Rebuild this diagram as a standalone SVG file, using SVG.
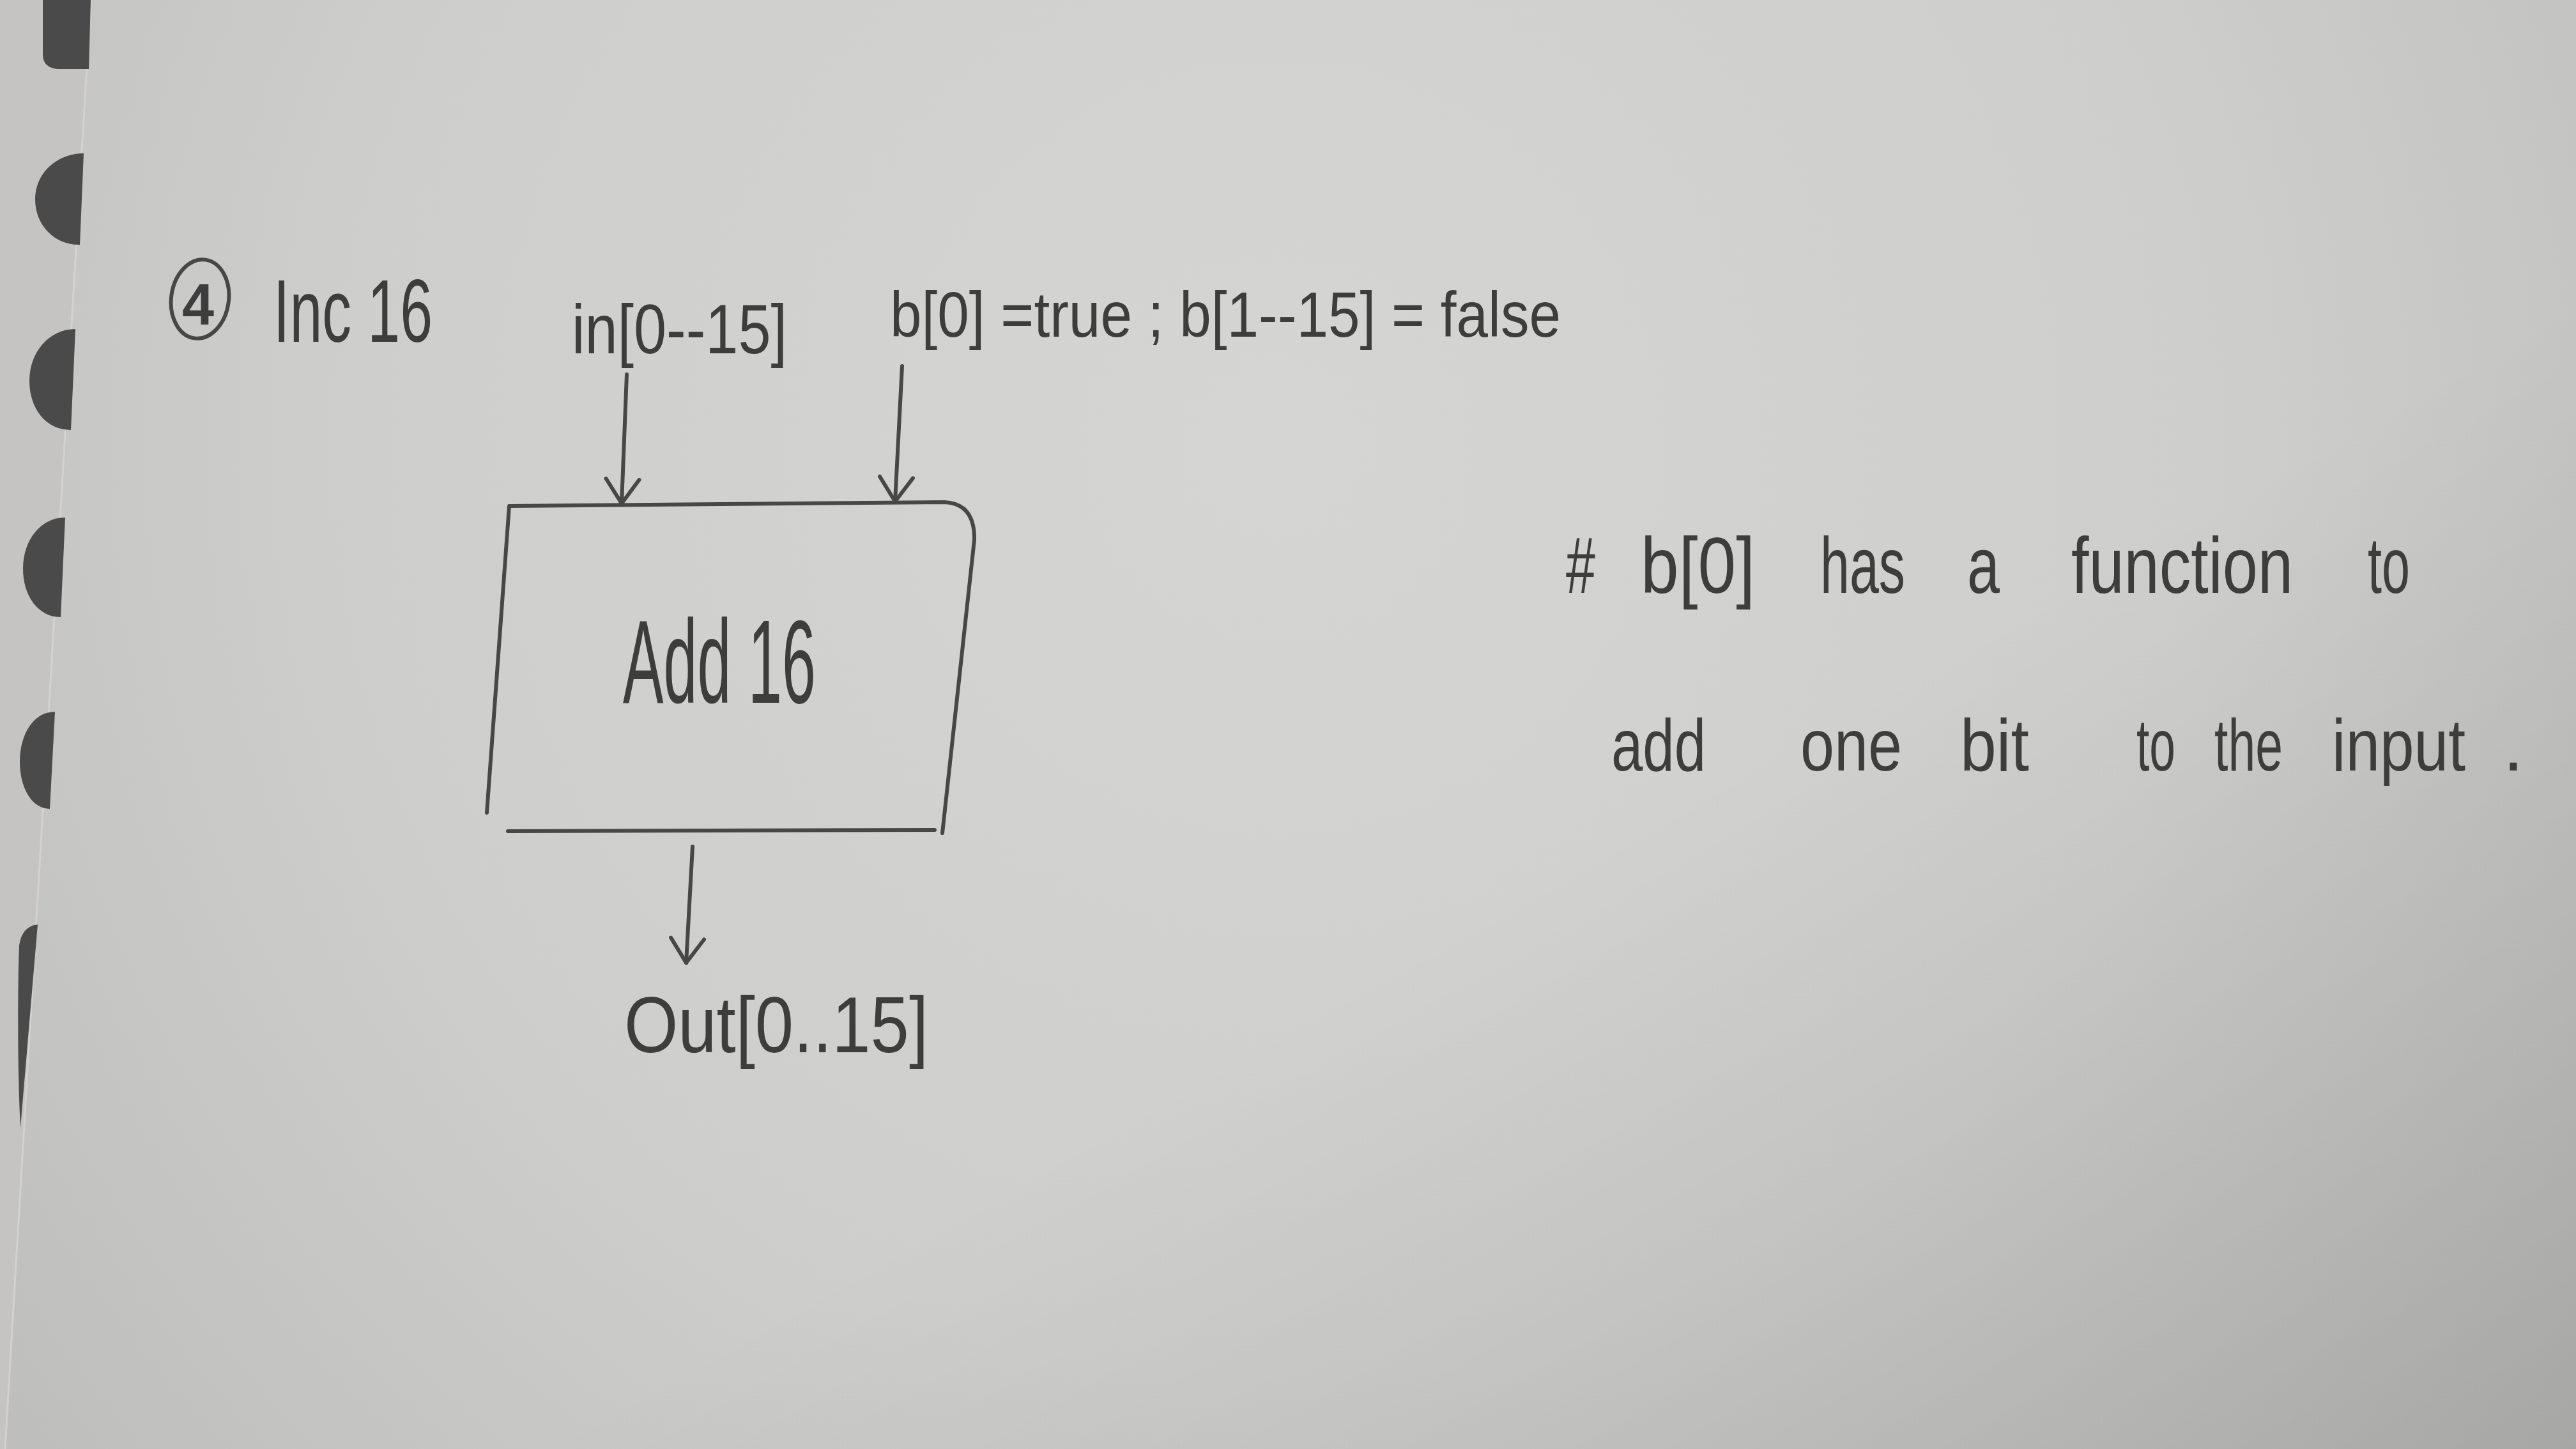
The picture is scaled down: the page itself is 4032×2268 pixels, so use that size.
<svg xmlns="http://www.w3.org/2000/svg" width="4032" height="2268" viewBox="0 0 4032 2268">
  <defs>
    <radialGradient id="paper" cx="2000" cy="700" r="2900" gradientUnits="userSpaceOnUse">
      <stop offset="0" stop-color="#d5d5d3"/>
      <stop offset="0.5" stop-color="#cececc"/>
      <stop offset="1" stop-color="#b8b8b6"/>
    </radialGradient>
    <linearGradient id="shade" x1="0" y1="0" x2="1" y2="1">
      <stop offset="0.6" stop-color="#000" stop-opacity="0"/>
      <stop offset="1" stop-color="#000" stop-opacity="0.12"/>
    </linearGradient>
    <marker id="vhead" viewBox="-50 -35 60 70" refX="0" refY="0" markerWidth="60" markerHeight="70" markerUnits="userSpaceOnUse" orient="auto">
      <path d="M -38,-26 L 0,0 L -38,26" fill="none" stroke="#474747" stroke-width="6" stroke-linecap="round" stroke-linejoin="round"/>
    </marker>
    <style>
      .pen { fill: none; stroke: #474747; stroke-width: 6; stroke-linecap: round; stroke-linejoin: round; }
      .hw { font-family: "Liberation Sans Narrow", "Liberation Sans", "DejaVu Sans", sans-serif; fill: #3d3d3d; }
      .hole { fill: #4b4a4a; }
    </style>
  </defs>

  <!-- paper -->
  <rect x="0" y="0" width="4032" height="2268" fill="url(#paper)"/>
  <rect x="0" y="0" width="4032" height="2268" fill="url(#shade)"/>
  <polygon points="0,0 142,0 8,2268 0,2268" fill="#c6c4c2"/>
  <line x1="142" y1="0" x2="8" y2="2268" stroke="#dcdcda" stroke-width="3" opacity="0.6"/>

  <!-- binder holes -->
  <g id="holes">
    <path class="hole" d="M 67,0 L 142,0 L 139,108 L 90,108 Q 67,106 67,85 Z"/>
    <path class="hole" d="M 131,240 L 125,383 C 85,384 55,352 55,312 C 55,270 90,240 131,240 Z"/>
    <path class="hole" d="M 118,515 L 111,673 C 72,673 46,640 46,596 C 46,550 78,515 118,515 Z"/>
    <path class="hole" d="M 102,810 L 95,966 C 60,966 36,933 36,890 C 36,845 64,810 102,810 Z"/>
    <path class="hole" d="M 86,1114 L 78,1266 C 49,1266 31,1232 31,1192 C 31,1150 52,1114 86,1114 Z"/>
    <path class="hole" d="M 59,1447 L 32,1765 C 28,1700 27,1560 30,1480 Q 34,1450 59,1447 Z"/>
  </g>

  <!-- title -->
  <g id="title">
    <ellipse cx="313" cy="468" rx="45" ry="62" transform="rotate(8 313 468)" class="pen" stroke-width="6"/>
    <text class="hw" x="310" y="508" font-size="90" text-anchor="middle" font-weight="bold">4</text>
    <text class="hw" x="428" y="535" font-size="140" textLength="249" lengthAdjust="spacingAndGlyphs">Inc 16</text>
  </g>

  <!-- input labels -->
  <g id="in-label">
    <text class="hw" x="895" y="553" font-size="110" textLength="337" lengthAdjust="spacingAndGlyphs">in[0--15]</text>
  </g>
  <g id="b-label">
    <text class="hw" x="1393" y="527" font-size="100" textLength="1050" lengthAdjust="spacingAndGlyphs">b[0] =true ; b[1--15] = false</text>
  </g>

  <!-- Add16 node -->
  <g id="add16">
    <path class="pen" d="M 762,1272 L 797,792 L 1478,786 Q 1526,788 1525,845 L 1475,1304"/>
    <path class="pen" d="M 795,1301 L 1463,1299"/>
    <text class="hw" x="975" y="1100" font-size="185" textLength="302" lengthAdjust="spacingAndGlyphs">Add 16</text>
  </g>

  <!-- output label -->
  <g id="out-label">
    <text class="hw" x="977" y="1647" font-size="125" textLength="476" lengthAdjust="spacingAndGlyphs">Out[0..15]</text>
  </g>

  <!-- connectors -->
  <g id="connectors">
    <line class="pen" x1="981" y1="586" x2="973" y2="788" marker-end="url(#vhead)"/>
    <line class="pen" x1="1412" y1="573" x2="1401" y2="785" marker-end="url(#vhead)"/>
    <line class="pen" x1="1084" y1="1325" x2="1074" y2="1507" marker-end="url(#vhead)"/>
  </g>

  <!-- note -->
  <g id="note">
    <text class="hw" x="2451" y="928" font-size="125" textLength="46" lengthAdjust="spacingAndGlyphs">#</text>
    <text class="hw" x="2568" y="928" font-size="125" textLength="179" lengthAdjust="spacingAndGlyphs">b[0]</text>
    <text class="hw" x="2849" y="928" font-size="125" textLength="133" lengthAdjust="spacingAndGlyphs">has</text>
    <text class="hw" x="3079" y="928" font-size="125" textLength="51" lengthAdjust="spacingAndGlyphs">a</text>
    <text class="hw" x="3242" y="928" font-size="125" textLength="347" lengthAdjust="spacingAndGlyphs">function</text>
    <text class="hw" x="3706" y="928" font-size="125" textLength="66" lengthAdjust="spacingAndGlyphs">to</text>
    <text class="hw" x="2522" y="1206" font-size="115" textLength="148" lengthAdjust="spacingAndGlyphs">add</text>
    <text class="hw" x="2818" y="1206" font-size="115" textLength="159" lengthAdjust="spacingAndGlyphs">one</text>
    <text class="hw" x="3068" y="1206" font-size="115" textLength="108" lengthAdjust="spacingAndGlyphs">bit</text>
    <text class="hw" x="3344" y="1206" font-size="115" textLength="61" lengthAdjust="spacingAndGlyphs">to</text>
    <text class="hw" x="3466" y="1206" font-size="115" textLength="107" lengthAdjust="spacingAndGlyphs">the</text>
    <text class="hw" x="3650" y="1206" font-size="115" textLength="209" lengthAdjust="spacingAndGlyphs">input</text>
    <text class="hw" x="3918" y="1206" font-size="115">.</text>
  </g>
</svg>
